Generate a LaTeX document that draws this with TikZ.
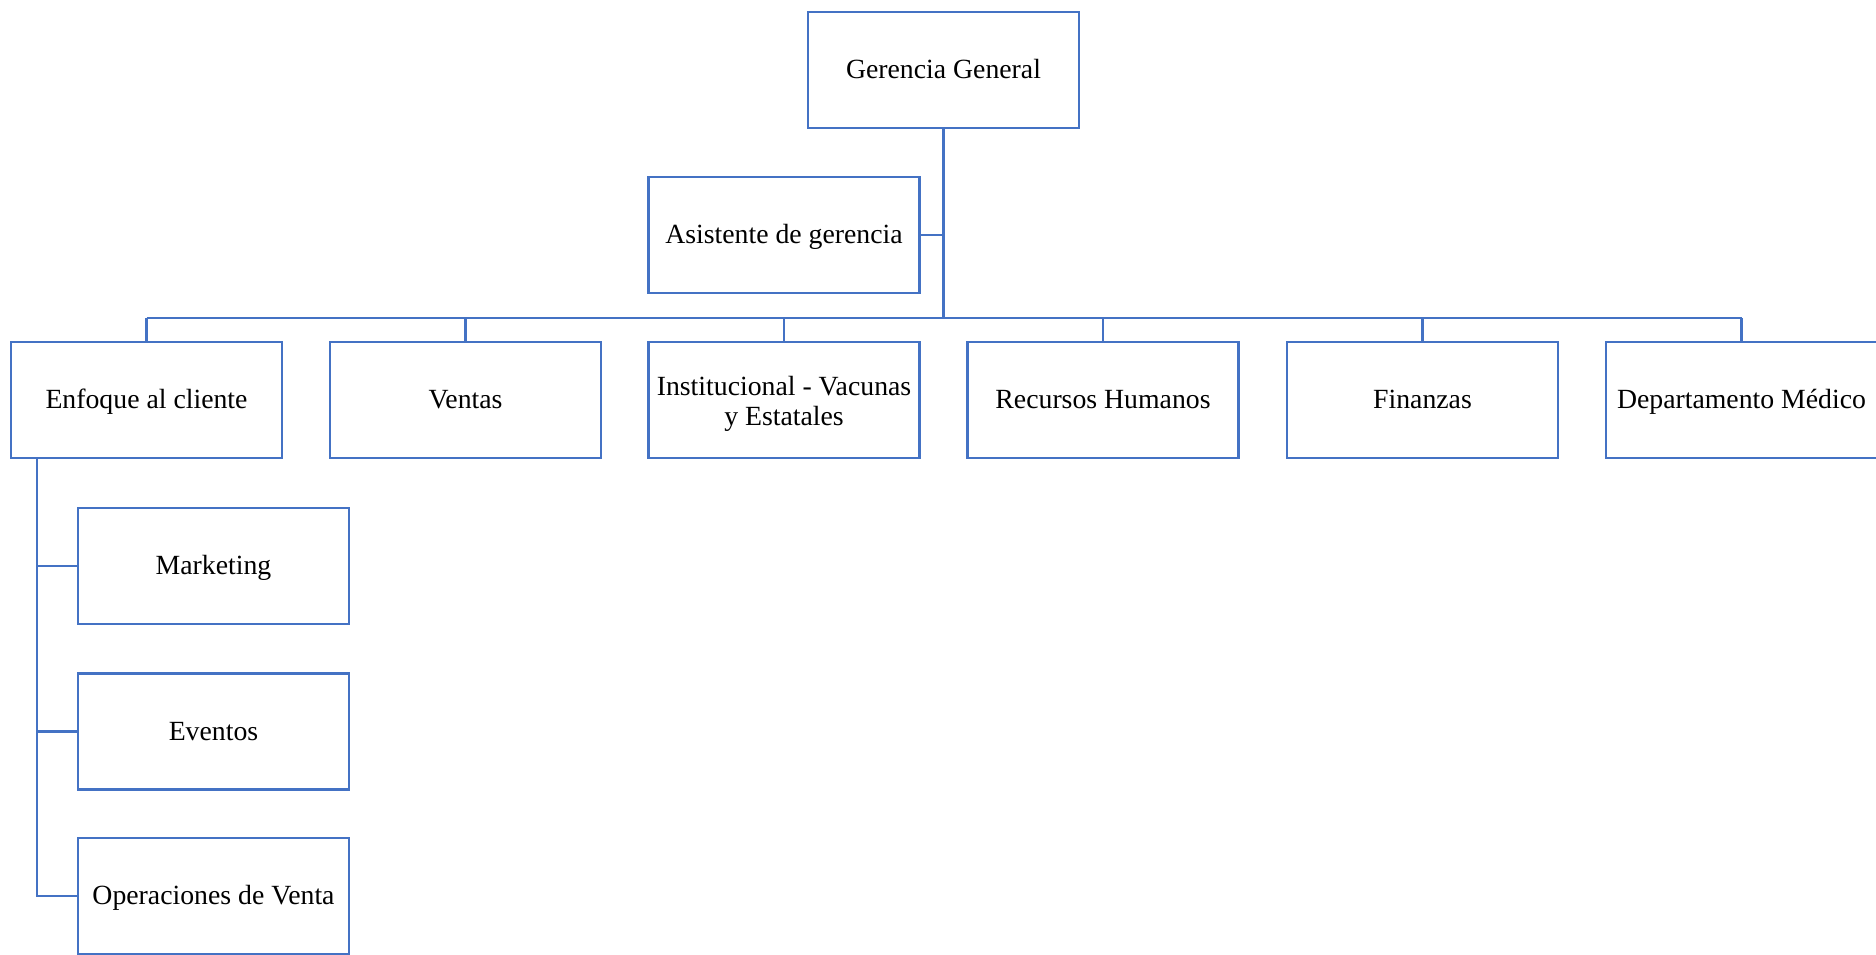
\documentclass[tikz,border=0pt]{standalone}
\usepackage{fontspec}
\setmainfont{Liberation Serif}
\usetikzlibrary{calc,positioning}
\definecolor{orgblue}{HTML}{4472C4}
\tikzset{
  unit/.style={draw=orgblue,line width=0.045cm,rectangle,minimum width=5.42cm,minimum height=2.32cm,inner sep=0pt,align=center,text height=14pt,text depth=3.8pt,font=\fontsize{15.8}{17}\selectfont},
  link/.style={draw=orgblue,line width=0.045cm}
}

\begin{document}
\begin{tikzpicture}[x=0.02cm,y=-0.02cm]
  \useasboundingbox (0,0) rectangle (1876,954);

  \node[unit] (gg) at (943.5,70) {Gerencia General};
  \node[unit] (asis) at (784,235) {Asistente de gerencia};

  \node[unit] (enf) at (146.5,400) {Enfoque al cliente};
  \node[unit] (ven) at (465.5,400) {Ventas};
  \node[unit,text height=31.9pt,text depth=3.4pt] (ins) at (784,400) {Institucional - Vacunas\\y Estatales};
  \node[unit] (rh) at (1103,400) {Recursos Humanos};
  \node[unit] (fin) at (1422.5,400) {Finanzas};
  \node[unit] (dep) at (1741.5,400) {Departamento M\'edico};

  \node[unit] (mkt) at (213.5,566) {Marketing};
  \node[unit] (evt) at (213.5,731.5) {Eventos};
  \node[unit] (ope) at (213.5,896) {Operaciones de Venta};

  \coordinate (bus) at (943.5,318);
  \coordinate (spine) at (37,458);

  \draw[link,line width=0.06cm] (gg.south) -- (bus);
  \draw[link] (asis.east) -- (asis.east -| bus);
  \draw[link] (bus -| enf.north) -- (bus -| dep.north);
  \foreach \n in {enf,ven,ins,rh,fin,dep}
    \draw[link] (bus -| \n.north) -- (\n.north);

  \draw[link] (spine) |- (ope.west);
  \draw[link] (spine |- mkt.west) -- (mkt.west);
  \draw[link] (spine |- evt.west) -- (evt.west);
\end{tikzpicture}
\end{document}
